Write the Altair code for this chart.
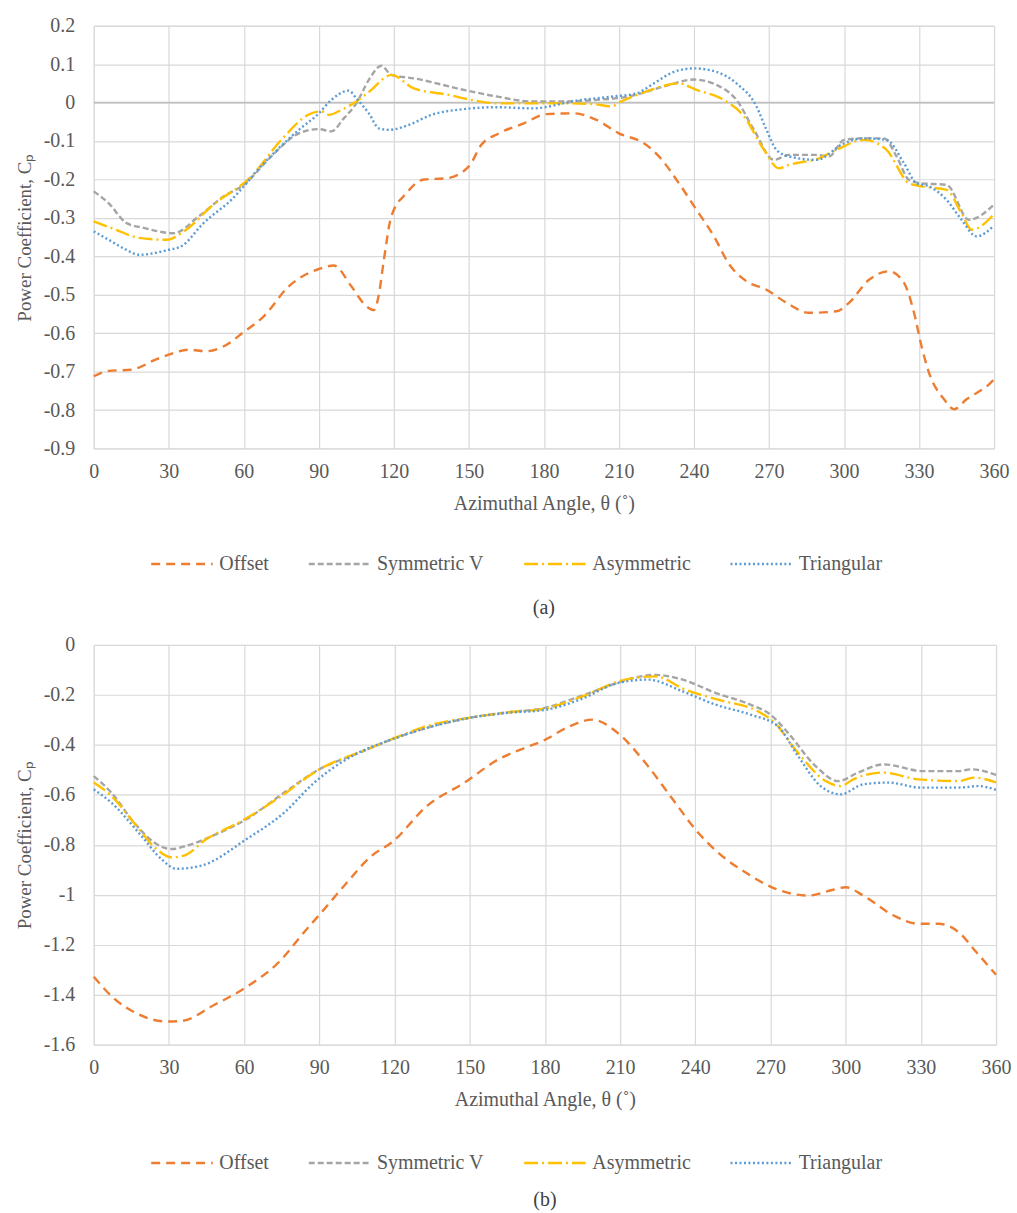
import altair as alt
import pandas as pd

# ---------------- data: chart (a) ----------------
series_names = ["Offset", "Symmetric V", "Asymmetric", "Triangular"]
series_colors = ["#ED7D31", "#A5A5A5", "#FFC000", "#5B9BD5"]

a_offset_t = [0, 6, 15, 25, 30, 38, 45, 52, 60, 68, 78, 90, 96, 103, 109, 112, 114, 116, 119, 125,
              132, 141, 150, 155, 162, 172, 181, 192, 201, 210, 220, 226, 234, 241, 248, 254, 261,
              269, 277, 286, 297, 302, 310, 318, 324, 328, 331, 334, 340, 344, 349, 358, 360]
a_offset_v = [-0.712, -0.698, -0.695, -0.668, -0.656, -0.643, -0.647, -0.634, -0.597, -0.556,
              -0.478, -0.433, -0.424, -0.478, -0.530, -0.540, -0.500, -0.41, -0.296, -0.236,
              -0.20, -0.197, -0.166, -0.11, -0.08, -0.054, -0.03, -0.028, -0.045, -0.08,
              -0.106, -0.14, -0.21, -0.279, -0.348, -0.420, -0.465, -0.487, -0.521, -0.547,
              -0.543, -0.521, -0.461, -0.439, -0.469, -0.547, -0.634, -0.703, -0.772, -0.798,
              -0.772, -0.733, -0.72]

a_symv_t = [0, 6, 13, 20, 32, 42, 52, 60, 71, 82, 90, 95, 100, 105, 110, 115, 119, 128, 148, 161,
            175, 188, 201, 214, 228, 240, 249, 257, 264, 272, 278, 289, 294, 300, 308, 316, 321,
            326, 331, 341, 350, 360]
a_symv_v = [-0.231, -0.262, -0.313, -0.326, -0.34, -0.296, -0.244, -0.214, -0.14, -0.08,
            -0.069, -0.075, -0.041, -0.002, 0.059, 0.096, 0.072, 0.063, 0.033, 0.016,
            0.003, 0.003, 0.007, 0.016, 0.042, 0.06, 0.046, 0.007, -0.071, -0.149,
            -0.136, -0.136, -0.14, -0.097, -0.093, -0.093, -0.14, -0.201, -0.21, -0.214,
            -0.305, -0.265]

a_asym_t = [0, 9, 18, 29, 37, 47, 63, 75, 87, 91, 94, 99, 105, 111, 116, 119, 128, 142, 151, 161,
            175, 188, 200, 207, 210, 221, 234, 241, 252, 260, 268, 274, 278, 290, 297, 308, 317,
            326, 331, 341, 347, 351, 360]
a_asym_v = [-0.309, -0.331, -0.352, -0.357, -0.331, -0.27, -0.192, -0.097, -0.028, -0.023,
            -0.032, -0.019, 0.003, 0.033, 0.063, 0.072, 0.037, 0.02, 0.007, -0.002,
            -0.002, -0.002, -0.004, -0.01, 0.0, 0.029, 0.05, 0.033, 0.007, -0.036,
            -0.123, -0.171, -0.162, -0.145, -0.123, -0.097, -0.123, -0.21, -0.218, -0.227,
            -0.288, -0.331, -0.29]

a_tri_t = [0, 6, 13, 18, 30, 35, 44, 55, 68, 82, 90, 95, 102, 105, 110, 114, 118, 126, 135, 148,
           161, 175, 195, 208, 217, 224, 232, 240, 249, 257, 265, 269, 273, 278, 289, 300, 308,
           317, 324, 329, 334, 341, 347, 353, 360]
a_tri_v = [-0.335, -0.357, -0.383, -0.396, -0.383, -0.374, -0.313, -0.253, -0.158, -0.071,
           -0.028, 0.007, 0.031, 0.011, -0.028, -0.067, -0.071, -0.058, -0.032, -0.017,
           -0.012, -0.015, 0.007, 0.016, 0.024, 0.05, 0.08, 0.089, 0.08, 0.05,
           -0.01, -0.071, -0.123, -0.14, -0.149, -0.106, -0.093, -0.097, -0.158, -0.21,
           -0.218, -0.253, -0.305, -0.348, -0.32]

# ---------------- data: chart (b) ----------------
b_offset_t = [0, 8, 17, 29, 35, 48, 60, 74, 84, 91, 100, 111, 119, 133, 148, 162, 170, 180, 189,
              199, 209, 220, 231, 241, 249, 262, 272, 285, 295, 300, 307, 319, 329, 337, 345, 352, 360]
b_offset_v = [-1.328, -1.414, -1.474, -1.507, -1.505, -1.441, -1.375, -1.268, -1.149, -1.069,
              -0.963, -0.843, -0.79, -0.644, -0.551, -0.455, -0.42, -0.38, -0.33, -0.299,
              -0.352, -0.471, -0.618, -0.75, -0.83, -0.923, -0.976, -1.003, -0.98, -0.97,
              -1.003, -1.082, -1.116, -1.116, -1.149, -1.228, -1.32]

b_symv_t = [0, 7, 16, 24, 31, 37, 49, 61, 76, 90, 106, 119, 135, 151, 165, 180, 194, 205, 215,
            224, 235, 248, 262, 270, 277, 288, 297, 305, 315, 331, 345, 350, 360]
b_symv_v = [-0.525, -0.591, -0.71, -0.79, -0.817, -0.804, -0.757, -0.697, -0.591, -0.498,
            -0.432, -0.378, -0.326, -0.29, -0.27, -0.252, -0.206, -0.166, -0.133, -0.12,
            -0.139, -0.192, -0.239, -0.279, -0.352, -0.485, -0.545, -0.511, -0.478, -0.505,
            -0.505, -0.498, -0.52]

b_asym_t = [0, 7, 17, 25, 31, 36, 45, 58, 73, 90, 109, 122, 135, 151, 165, 180, 194, 212, 224,
            236, 249, 265, 271, 281, 292, 298, 303, 315, 329, 345, 351, 360]
b_asym_v = [-0.551, -0.604, -0.724, -0.817, -0.85, -0.843, -0.777, -0.71, -0.618, -0.498,
            -0.418, -0.365, -0.319, -0.29, -0.27, -0.255, -0.21, -0.139, -0.126, -0.179,
            -0.219, -0.266, -0.305, -0.432, -0.545, -0.565, -0.538, -0.511, -0.538, -0.545,
            -0.531, -0.55]

b_tri_t = [0, 7, 19, 27, 33, 43, 61, 76, 88, 103, 119, 135, 151, 165, 180, 194, 209, 221, 235,
           248, 262, 273, 281, 290, 298, 307, 317, 330, 345, 353, 360]
b_tri_v = [-0.578, -0.631, -0.764, -0.857, -0.896, -0.883, -0.777, -0.671, -0.551, -0.445,
           -0.378, -0.326, -0.29, -0.272, -0.26, -0.219, -0.153, -0.139, -0.186, -0.239,
           -0.279, -0.326, -0.445, -0.565, -0.598, -0.558, -0.551, -0.571, -0.571, -0.565,
           -0.58]

x_ticks = [0, 30, 60, 90, 120, 150, 180, 210, 240, 270, 300, 330, 360]
a_y_ticks = [0.2, 0.1, 0, -0.1, -0.2, -0.3, -0.4, -0.5, -0.6, -0.7, -0.8, -0.9]
b_y_ticks = [0, -0.2, -0.4, -0.6, -0.8, -1.0, -1.2, -1.4, -1.6]

# ---------------- styling ----------------
FONT = "Liberation Serif"
TXT = "#595959"
GRID = "#d9d9d9"
dashes = [[9, 6], [6, 3], [14, 4, 2, 4], [2, 2.5]]


def build_df(parts):
    rows = []
    for name, ts, vs in parts:
        for t, v in zip(ts, vs):
            rows.append({"theta": t, "cp": v, "series": name})
    return pd.DataFrame(rows)


df_a = build_df([("Offset", a_offset_t, a_offset_v), ("Symmetric V", a_symv_t, a_symv_v),
                 ("Asymmetric", a_asym_t, a_asym_v), ("Triangular", a_tri_t, a_tri_v)])
df_b = build_df([("Offset", b_offset_t, b_offset_v), ("Symmetric V", b_symv_t, b_symv_v),
                 ("Asymmetric", b_asym_t, b_asym_v), ("Triangular", b_tri_t, b_tri_v)])

label_expr = "datum.value == 0 ? '0' : (datum.value < 0 ? '-' : '') + format(abs(datum.value), '~g')"


def panel(df, yticks, ydomain, w, h, leg_x, leg_y, caption, cap_offset, zero_rule):
    legend = alt.Legend(
        title=None, orient="none", direction="horizontal", legendX=leg_x, legendY=leg_y,
        symbolType="stroke", symbolSize=3800, symbolStrokeWidth=2.5,
        labelFont=FONT, labelFontSize=20, labelColor=TXT, labelOffset=5,
        columnPadding=34, columns=4,
    )
    x = alt.X("theta:Q", scale=alt.Scale(domain=[0, 360], nice=False, zero=False),
              axis=alt.Axis(values=x_ticks, title="Azimuthal Angle, θ (˚)", grid=True,
                            gridColor=GRID, gridWidth=1.2, domain=False, ticks=False,
                            labelFont=FONT, labelFontSize=20, labelColor=TXT, labelPadding=13,
                            titleFont=FONT, titleFontSize=20, titleFontWeight="normal",
                            titleColor=TXT, titlePadding=12, labelFlush=False,
                            labelOverlap=False))
    y = alt.Y("cp:Q", scale=alt.Scale(domain=ydomain, nice=False, zero=False),
              axis=alt.Axis(values=yticks, labelExpr=label_expr, title="Power Coefficient, Cₚ",
                            grid=True, gridColor=GRID, gridWidth=1.2, domain=False, ticks=False,
                            labelFont=FONT, labelFontSize=20, labelColor=TXT, labelPadding=19,
                            titleFont=FONT, titleFontSize=19, titleFontWeight="normal",
                            titleColor=TXT, titlePadding=9, labelFlush=False,
                            labelOverlap=False))
    lines = alt.Chart(df).mark_line(interpolate="monotone", strokeWidth=2.4).encode(
        x=x, y=y,
        color=alt.Color("series:N", scale=alt.Scale(domain=series_names, range=series_colors),
                        sort=series_names, legend=legend),
        strokeDash=alt.StrokeDash("series:N", scale=alt.Scale(domain=series_names, range=dashes),
                                  sort=series_names, legend=legend),
        detail="series:N",
    )
    layers = []
    if zero_rule:
        rule = alt.Chart(pd.DataFrame({"cp": [0]})).mark_rule(color="#bfbfbf", strokeWidth=1.6).encode(
            y=y)
        layers.append(rule)
    layers.append(lines)
    return alt.layer(*layers).properties(
        width=w, height=h,
        title=alt.TitleParams(caption, orient="bottom", anchor="middle", font=FONT, fontSize=20,
                              fontWeight="normal", color="#404040", offset=cap_offset),
    )


top = panel(df_a, a_y_ticks, [-0.9, 0.2], 903, 424, 56, 507, "(a)", 24, True)
bottom = panel(df_b, b_y_ticks, [-1.6, 0], 905, 401, 56, 487, "(b)", 17, False)

chart = alt.vconcat(top, bottom, spacing=15).resolve_scale(
    color="independent", strokeDash="independent"
).resolve_legend(
    color="independent", strokeDash="independent"
).properties(
    padding={"left": 14, "top": 13, "right": 5, "bottom": 5}
).configure_view(stroke=None).configure(background="white")

chart.save("out.html", embed_options={"renderer": "svg", "actions": False})
